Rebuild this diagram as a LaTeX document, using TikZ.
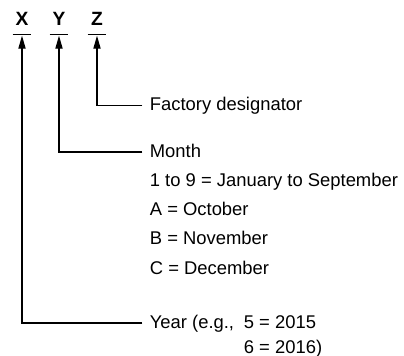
\documentclass[tikz,border=0pt]{standalone}
\usepackage{fontspec}
\setmainfont{Liberation Sans}
\usetikzlibrary{arrows.meta,positioning}
\begin{document}
\begin{tikzpicture}[x=0.5pt, y=-0.5pt,
    font=\fontsize{9.2}{11}\selectfont,
    letter/.style={font=\fontsize{9.6}{11}\selectfont\bfseries, anchor=base,
        inner xsep=0pt, inner ysep=4.15pt, text height=6.5pt, text depth=0pt,
        minimum width=9pt},
    lbl/.style={inner xsep=3.5pt, inner ysep=0pt},
    ptr/.style={-{Triangle[length=6.5pt,width=3.6pt]}, line width=0.55pt,
        shorten >=0.5pt},
    bar/.style={line width=0.55pt}]

\useasboundingbox (0,0) rectangle (404,356);

% ── Letras do código ─────────────────────────────────────────
\node[letter] (X) at (22,26) {X};
\node[letter] (Y) at (59,26) {Y};
\node[letter] (Z) at (97,26) {Z};
\foreach \n in {X,Y,Z}
    \draw[bar] (\n.south west) -- (\n.south east);

% ── Fábrica ──────────────────────────────────────────────────
\node[lbl, anchor=mid west] (factory) at (142.5,105.5) {Factory designator};

% ── Mês e lista de valores ───────────────────────────────────
\node[lbl, anchor=mid west] (month) at (142.5,152) {Month};
\node[lbl, anchor=base west] (digits)
    at ([yshift=-14.6pt]month.base west) {1 to 9 = January to September};
\node[lbl, anchor=base west] (oct)
    at ([yshift=-14.6pt]digits.base west) {A = October};
\node[lbl, anchor=base west] (nov)
    at ([yshift=-14.6pt]oct.base west) {B = November};
\node[lbl, anchor=base west] (dec)
    at ([yshift=-14.6pt]nov.base west) {C = December};

% ── Ano, com os dois exemplos alinhados ──────────────────────
\node[lbl, anchor=mid west] (year) at (142.5,323) {Year (e.g.,};
\node[lbl, anchor=base west] (yr1) at ([xshift=-2.5pt]year.base east) {5 = 2015};
\node[lbl, anchor=base west] (yr2)
    at ([yshift=-12.5pt]yr1.base west) {6 = 2016)};

% ── Setas até as letras ──────────────────────────────────────
\draw[ptr] (factory.mid west) -| (Z.south);
\draw[ptr] (month.mid west)   -| (Y.south);
\draw[ptr] (year.mid west)    -| (X.south);

\end{tikzpicture}
\end{document}
